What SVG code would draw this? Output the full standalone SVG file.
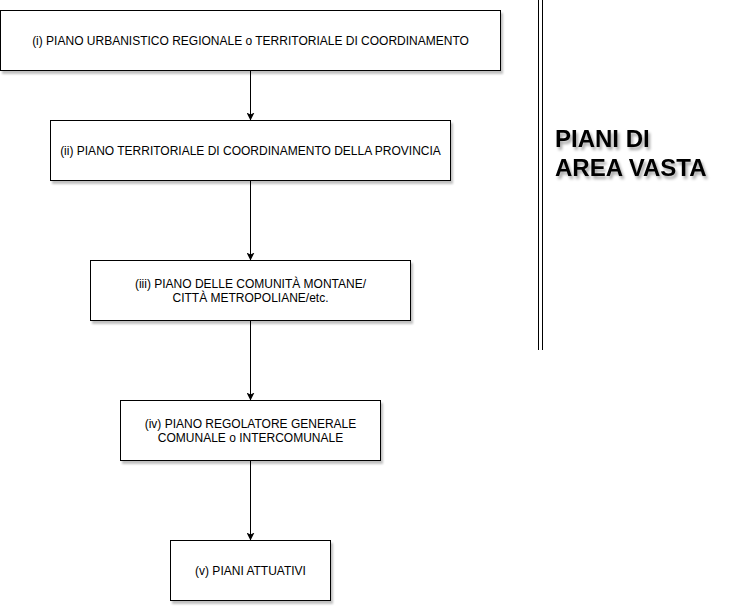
<svg xmlns="http://www.w3.org/2000/svg" width="732" height="612" viewBox="0 0 732 612">
<style>
.box{fill:#fff;stroke:#000;stroke-width:1;filter:url(#sh)}
.t{font-family:"Liberation Sans",Arial,sans-serif;font-size:12px;fill:#000;text-anchor:middle}
.big{font-family:"Liberation Sans",Arial,sans-serif;font-size:24px;font-weight:bold;fill:#000;filter:url(#tsh)}
.c{stroke:#000;stroke-width:1;fill:none;marker-end:url(#ah)}
</style>
<defs>
<filter id="sh" x="-10%" y="-20%" width="130%" height="150%">
<feGaussianBlur in="SourceAlpha" stdDeviation="1.2"/>
<feOffset dx="2" dy="3" result="o"/>
<feComponentTransfer><feFuncA type="linear" slope="0.25"/></feComponentTransfer>
<feMerge><feMergeNode/><feMergeNode in="SourceGraphic"/></feMerge>
</filter>
<filter id="tsh" x="-10%" y="-30%" width="130%" height="170%">
<feGaussianBlur in="SourceAlpha" stdDeviation="1.5"/>
<feOffset dx="2" dy="3" result="o"/>
<feComponentTransfer><feFuncA type="linear" slope="0.35"/></feComponentTransfer>
<feMerge><feMergeNode/><feMergeNode in="SourceGraphic"/></feMerge>
</filter>
<marker id="ah" viewBox="0 0 10 10" refX="10" refY="5" markerWidth="8" markerHeight="8" markerUnits="userSpaceOnUse" orient="auto">
<path d="M0,0 L10,5 L0,10 L2.5,5 Z" fill="#000"/>
</marker>
</defs>
<g id="connectors">
<path class="c" d="M250.5,70.5 L250.5,120.5"/>
<path class="c" d="M250.5,180.5 L250.5,260.5"/>
<path class="c" d="M250.5,320.5 L250.5,400.5"/>
<path class="c" d="M250.5,460.5 L250.5,540.5"/>
</g>
<g id="n1"><rect class="box" x="0.5" y="10.5" width="500" height="60"/><text class="t" x="250.5" y="45">(i) PIANO URBANISTICO REGIONALE o TERRITORIALE DI COORDINAMENTO</text></g>
<g id="n2"><rect class="box" x="50.5" y="120.5" width="400" height="60"/><text class="t" x="250.5" y="155">(ii) PIANO TERRITORIALE DI COORDINAMENTO DELLA PROVINCIA</text></g>
<g id="n3"><rect class="box" x="90.5" y="260.5" width="320" height="60"/><text class="t" x="250.5" y="288">(iii) PIANO DELLE COMUNITÀ MONTANE/</text><text class="t" x="250.5" y="302">CITTÀ METROPOLIANE/etc.</text></g>
<g id="n4"><rect class="box" x="120.5" y="400.5" width="260" height="60"/><text class="t" x="250.5" y="428">(iv) PIANO REGOLATORE GENERALE</text><text class="t" x="250.5" y="442">COMUNALE o INTERCOMUNALE</text></g>
<g id="n5"><rect class="box" x="170.5" y="540.5" width="160" height="60"/><text class="t" x="250.5" y="575">(v) PIANI ATTUATIVI</text></g>
<g id="divider">
<line x1="538.5" y1="0" x2="538.5" y2="350" stroke="#000" stroke-width="1"/>
<line x1="542.5" y1="0" x2="542.5" y2="350" stroke="#000" stroke-width="1"/>
</g>
<g id="label">
<text class="big" x="555" y="147">PIANI DI</text>
<text class="big" x="555" y="176">AREA VASTA</text>
</g>
</svg>
